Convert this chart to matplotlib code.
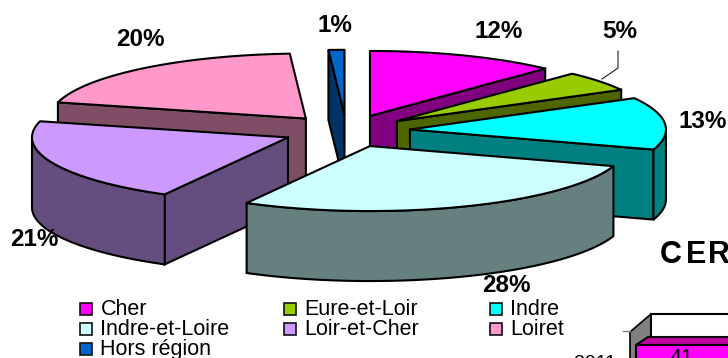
import numpy as np
import matplotlib
matplotlib.use("Agg")
import matplotlib.pyplot as plt
from matplotlib.patches import Polygon, Rectangle

categories = ["Cher", "Eure-et-Loir", "Indre", "Indre-et-Loire", "Loir-et-Cher", "Loiret", "Hors région"]
values = [12, 5, 13, 28, 21, 20, 1]
labels = ["12%", "5%", "13%", "28%", "21%", "20%", "1%"]
tops = ["#FF00FF", "#99CC00", "#00FFFF", "#CCFFFF", "#CC99FF", "#FF99CC", "#0066CC"]
sides = ["#800080", "#4D6600", "#008080", "#668080", "#664D80", "#804D66", "#003366"]
draw_order = [6, 0, 5, 1, 2, 4, 3]
label_pos = [(499, 31), (620, 31), (703, 121), (506, 285), (34, 239), (140, 39), (335, 25)]
partial_category = "2011"
partial_value = "41"
partial_title = ["C", "E", "R"]
partial_title_x = [660, 686, 708]

CX, CY, RX, RY, DEPTH, EXPLODE = 346.5, 131, 256, 65, 70, 0.249
plt.rcParams["font.family"] = ["Liberation Sans", "DejaVu Sans"]
fig = plt.figure(figsize=(7.28, 3.58), dpi=100)
ax = fig.add_axes([0, 0, 1, 1])
ax.set_xlim(0, 728)
ax.set_ylim(358, 0)
ax.axis("off")


def pt(c, a, dz=0):
    return (c[0] + RX * np.sin(a), c[1] - RY * np.cos(a) + dz)


edges = np.cumsum([0] + values) / sum(values) * 2 * np.pi
LW = 1.5
for i in draw_order:
    z = draw_order.index(i) * 3
    a0, a1 = edges[i], edges[i + 1]
    mid = (a0 + a1) / 2
    c = (CX + EXPLODE * RX * np.sin(mid), CY - EXPLODE * RY * np.cos(mid))
    # radial walls
    if 0 < a1 % (2 * np.pi) < np.pi:
        p = pt(c, a1)
        ax.add_patch(Polygon([c, p, (p[0], p[1] + DEPTH), (c[0], c[1] + DEPTH)],
                             fc=sides[i], ec="k", lw=LW, zorder=z + 1))
    if np.pi < a0 < 2 * np.pi:
        p = pt(c, a0)
        ax.add_patch(Polygon([c, p, (p[0], p[1] + DEPTH), (c[0], c[1] + DEPTH)],
                             fc=sides[i], ec="k", lw=LW, zorder=z + 1))
    # rim wall
    lo, hi = max(a0, np.pi / 2), min(a1, 1.5 * np.pi)
    if lo < hi:
        t = np.linspace(lo, hi, 60)
        upper = [pt(c, x) for x in t]
        lower = [pt(c, x, DEPTH) for x in t[::-1]]
        ax.add_patch(Polygon(upper + lower, fc=sides[i], ec="k", lw=LW, zorder=z + 2))
    # top face
    t = np.linspace(a0, a1, 80)
    ax.add_patch(Polygon([c] + [pt(c, x) for x in t], fc=tops[i], ec="k", lw=LW,
                         joinstyle="round", zorder=z + 3))

for s, (x, y) in zip(labels, label_pos):
    ax.text(x, y, s, fontsize=17.5, fontweight="bold", ha="center", va="center", zorder=40)
ax.plot([618, 618, 602], [51, 68, 79], color="k", lw=0.7, zorder=40)

# legend
col_x = [79, 283, 489]
row_y = [315, 335, 355]
for k, name in enumerate(categories):
    r, q = divmod(k, 3)
    ax.add_patch(Rectangle((col_x[q] + 0.5, row_y[r] - 12), 12, 12, fc=tops[k], ec="#111111", lw=1.2, zorder=41))
    ax.text(col_x[q] + 21.5, row_y[r], name, fontsize=15.5, ha="left", va="baseline", zorder=41)

# neighbouring chart, cut off by the frame
for ch, x in zip(partial_title, partial_title_x):
    ax.text(x, 263, ch, fontsize=22, fontweight="bold", ha="left", va="baseline", zorder=41)
ax.add_patch(Polygon([(630, 332), (651, 314), (651, 345), (630, 363)], fc="#808080", ec="k", lw=1.2, zorder=30))
ax.add_patch(Polygon([(651, 314), (735, 314), (735, 345), (651, 345)], fc="white", ec="k", lw=1.5, zorder=30))
ax.plot([623, 630], [331, 331], color="#808080", lw=1, zorder=30)
ax.add_patch(Polygon([(636, 345), (648, 337), (735, 337), (735, 345)], fc="#C000A0", ec="k", lw=1.5, zorder=31))
ax.add_patch(Rectangle((636, 345), 100, 30, fc="#FF00FF", ec="k", lw=1.5, zorder=32))
ax.text(681, 364, partial_value, fontsize=15.5, ha="center", va="baseline", zorder=33)
ax.text(595, 368, partial_category, fontsize=14, ha="center", va="baseline", zorder=33)

fig.savefig("out.png", dpi=100)
